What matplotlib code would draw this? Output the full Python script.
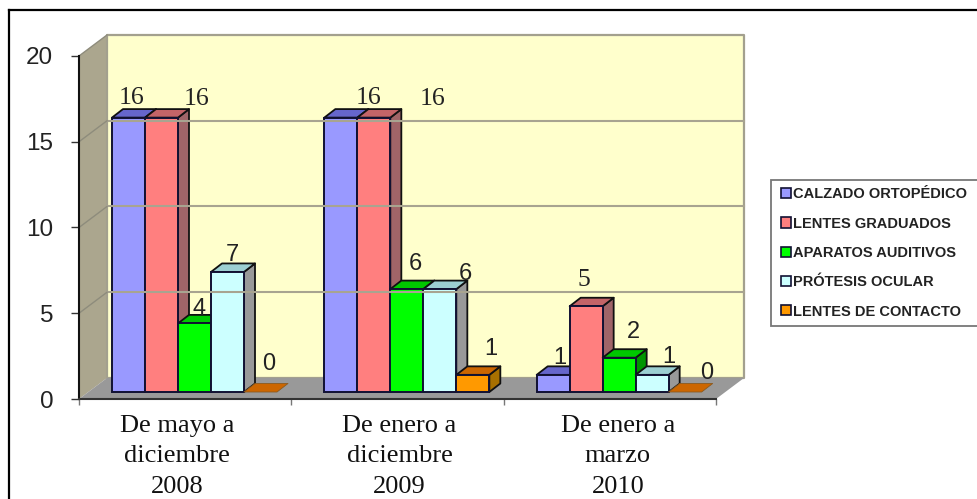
import matplotlib
matplotlib.use("Agg")
import matplotlib.pyplot as plt
from matplotlib.legend_handler import HandlerPatch
from matplotlib.lines import Line2D
from matplotlib.patches import Patch, Polygon

periods = ["De mayo a\ndiciembre\n2008", "De enero a\ndiciembre\n2009", "De enero a\nmarzo\n2010"]
yticks = [0, 5, 10, 15, 20]

calzado = [16, 16, 1]
lentes_graduados = [16, 16, 5]
aparatos = [4, 6, 2]
protesis = [7, 6, 1]
lentes_contacto = [0, 1, 0]

series_names = ["CALZADO ORTOPÉDICO", "LENTES GRADUADOS", "APARATOS AUDITIVOS", "PRÓTESIS OCULAR", "LENTES DE CONTACTO"]
series_values = [calzado, lentes_graduados, aparatos, protesis, lentes_contacto]

# front, top, side colours of each series
front_colors = ["#9999FF", "#FF7F7F", "#00FF00", "#CCFFFF", "#FF9900"]
top_colors = ["#6666CC", "#C46468", "#00C800", "#9CCFD2", "#CC6600"]
side_colors = ["#6E6EA8", "#A06468", "#009600", "#999999", "#A87000"]

# label placement in pixels from the front top of each bar, per period and series
label_offsets = [
    [(3, 20), (35, 19), (5, 14), (5, 17), (8, 28)],
    [(28, 20), (59, 19), (9, 25), (26, 15), (18, 26)],
    [(7, 17), (-2, 26), (14, 26), (17, 18), (22, 19)],
]
label_serif = [
    [True, True, False, False, False],
    [True, True, False, False, False],
    [False, True, False, False, False],
]
period_offsets = [(-8, -16), (2, -16), (8, -16)]

W, H = 978, 499
LEFT, RIGHT, TOP, BOTTOM = 79, 716, 56, 399

fig = plt.figure(figsize=(W / 100, H / 100), dpi=100, facecolor="white")
ax = fig.add_axes([LEFT / W, 1 - BOTTOM / H, (RIGHT - LEFT) / W, (BOTTOM - TOP) / H])
ax.set_xlim(0, len(periods))
ax.set_ylim(0, 20)
ax.patch.set_visible(False)

# pixels to data units
PX = len(periods) / (RIGHT - LEFT)
PY = 20 / (BOTTOM - TOP)

wall_dx, wall_dy = 28 * PX, 21 * PY
bar_dx, bar_dy = 11 * PX, 8.5 * PY
floor_y = 7 * PY
bar_w = 33 * PX
bar_start = 33 * PX


def add_poly(points, color, edge="none", lw=0.0):
    ax.add_patch(Polygon(points, closed=True, facecolor=color, edgecolor=edge, linewidth=lw,
                         joinstyle="round", clip_on=False))


xmax = len(periods)
# walls and floor
add_poly([(0, 0), (wall_dx, wall_dy), (wall_dx, 20 + wall_dy), (0, 20)], "#ABA68E")
add_poly([(wall_dx, wall_dy), (xmax + wall_dx, wall_dy), (xmax + wall_dx, 20 + wall_dy), (wall_dx, 20 + wall_dy)],
         "#FFFFCC", "#A3A08E", 1.6)
add_poly([(0, 0), (xmax, 0), (xmax + wall_dx, wall_dy), (wall_dx, wall_dy)], "#999999")

for t in yticks[1:-1]:
    ax.plot([wall_dx, xmax + wall_dx], [t + wall_dy, t + wall_dy], color="#A8A490", lw=1.5, clip_on=False)
for t in yticks[1:]:
    ax.plot([0, wall_dx], [t, t + wall_dy], color="#8E8C7C", lw=1.0, clip_on=False)

# bars
for i in range(len(periods)):
    for j in range(len(series_values)):
        v = series_values[j][i]
        x0 = i + bar_start + j * bar_w
        x1 = x0 + bar_w
        y1 = floor_y + v
        if v > 0:
            add_poly([(x1, floor_y), (x1 + bar_dx, floor_y + bar_dy), (x1 + bar_dx, y1 + bar_dy), (x1, y1)],
                     side_colors[j], "#111111", 1.3)
            add_poly([(x0, y1), (x1, y1), (x1 + bar_dx, y1 + bar_dy), (x0 + bar_dx, y1 + bar_dy)],
                     top_colors[j], "#111111", 1.3)
            ax.bar(x0, v, bar_w, bottom=floor_y, align="edge", color=front_colors[j],
                   edgecolor="#111133", linewidth=1.4)
        else:
            add_poly([(x0, y1), (x1, y1), (x1 + bar_dx, y1 + bar_dy), (x0 + bar_dx, y1 + bar_dy)],
                     top_colors[j], "#8A5A20", 0.6)
        off = label_offsets[i][j]
        if label_serif[i][j]:
            fam, size = "Liberation Serif", 18.5
        else:
            fam, size = "Liberation Sans", 17
        ax.annotate(str(v), (x0 + bar_w / 2, y1), xytext=off, textcoords="offset pixels",
                    ha="center", va="center", family=fam, fontsize=size, color="#222222",
                    annotation_clip=False)

# axes
ax.spines["top"].set_visible(False)
ax.spines["right"].set_visible(False)
ax.spines["left"].set_color("#111111")
ax.spines["left"].set_linewidth(1.5)
ax.spines["bottom"].set_color("#333333")
ax.spines["bottom"].set_linewidth(1.5)
ax.set_yticks(yticks)
ax.set_yticklabels([str(t) for t in yticks], family="Liberation Sans", fontsize=17.5, color="#222222")
ax.tick_params(axis="y", length=5.5, width=1, color="#333333", pad=13)
ax.set_xticks(range(len(periods) + 1))
ax.set_xticklabels([])
ax.tick_params(axis="x", length=4.5, width=1, color="#777777")

for i, name in enumerate(periods):
    ax.annotate(name, (i + 0.5, 0), xytext=period_offsets[i], textcoords="offset pixels",
                ha="center", va="top", family="Liberation Serif", fontsize=19, color="#111111",
                linespacing=1.5, annotation_clip=False)

# legend, its right edge runs off the picture
handles = [Patch(facecolor=c, edgecolor="#111133", linewidth=1.2) for c in front_colors]
leg = fig.legend(handles, series_names, loc="upper left", mode="expand",
                 bbox_to_anchor=(771 / W, 1 - 325 / H, 212 / W, 145 / H), bbox_transform=fig.transFigure,
                 borderaxespad=0, fancybox=False, framealpha=1, edgecolor="#777777",
                 handlelength=0.89, handleheight=0.68, handletextpad=0.1, labelspacing=1.05,
                 borderpad=0.5, prop={"family": "Liberation Sans", "weight": "bold", "size": 10.5},
                 handler_map={Patch: HandlerPatch(xpad=0.2)})
leg.get_frame().set_linewidth(1.3)
for txt in leg.get_texts():
    txt.set_color("#222222")

# outer frame, only left and top show
fig.add_artist(Line2D([9 / W, 9 / W], [1 - 10 / H, 1 - 498 / H], color="black", lw=1.6))
fig.add_artist(Line2D([9 / W, 1], [1 - 10 / H, 1 - 10 / H], color="black", lw=1.6))

fig.savefig("out.png", dpi=100)
plt.close(fig)
